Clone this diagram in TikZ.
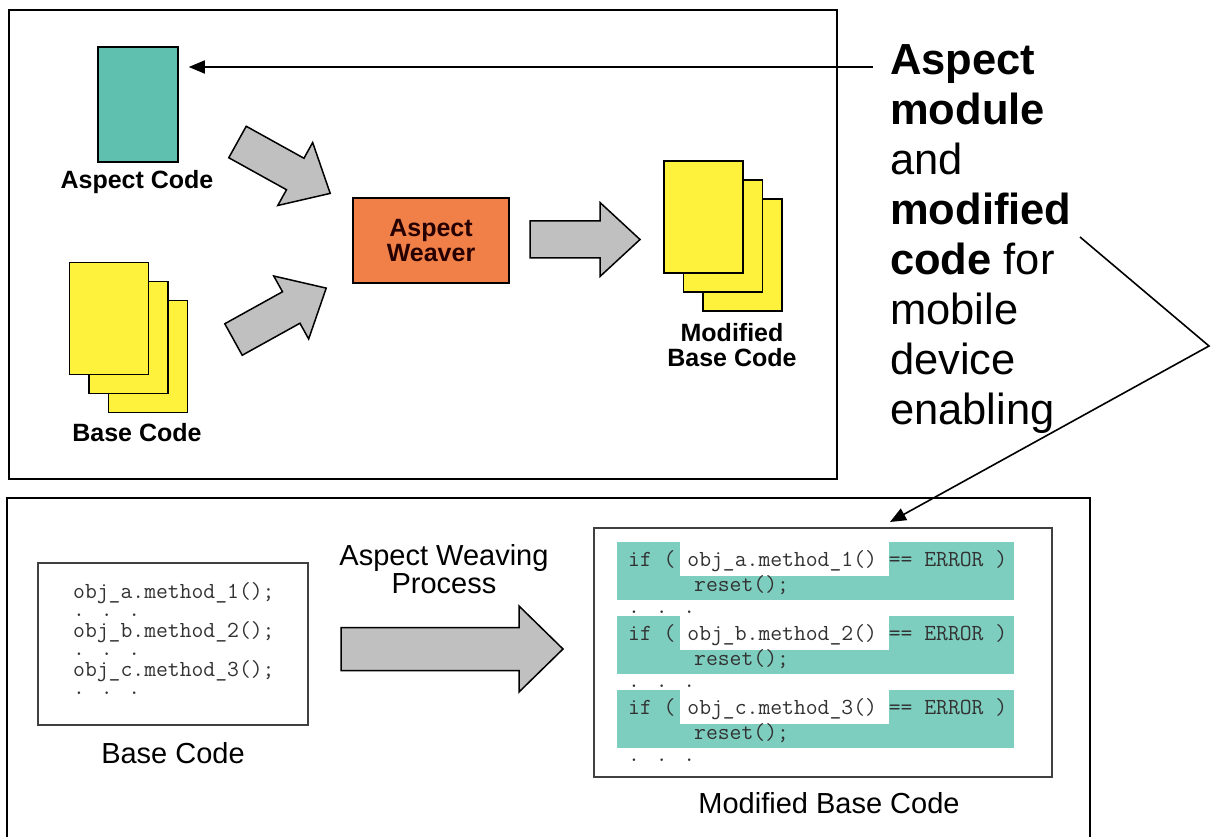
\documentclass[tikz,border=0pt]{standalone}
\usepackage{fontspec}
\setmainfont{Liberation Sans}
\usepackage{tikz}
\usetikzlibrary{arrows.meta}

\definecolor{aspectteal}{RGB}{96,192,176}
\definecolor{bandteal}{RGB}{126,206,192}
\definecolor{pageyellow}{RGB}{255,242,60}
\definecolor{weaverorange}{RGB}{240,128,72}
\definecolor{arrowgray}{RGB}{192,192,192}
\definecolor{codegray}{RGB}{50,50,50}

% block arrow: tail, angle, length, half shaft width, head length
\newcommand{\fatarrow}[5]{%
  \begin{scope}[shift={#1},rotate=#2]
    \filldraw[fill=arrowgray, draw=black, line width=1.5pt, line join=miter]
      (0,-#4) -- (#3-#5,-#4) -- (#3-#5,-2*#4) -- (#3,0) -- (#3-#5,2*#4) -- (#3-#5,#4) -- (0,#4) -- cycle;
  \end{scope}}

\begin{document}
\begin{tikzpicture}[x=1pt, y=-1pt]
    \tikzstyle{panel} = [draw, line width=2.5pt]
    \tikzstyle{page} = [rectangle, draw, line width=1.5pt, fill=pageyellow, inner sep=0pt, minimum width=79pt, minimum height=112pt]
    \tikzstyle{modulebox} = [rectangle, draw, line width=1.5pt, fill=aspectteal, inner sep=0pt, minimum width=80pt, minimum height=115pt]
    \tikzstyle{weaverbox} = [rectangle, draw, line width=1.5pt, fill=weaverorange, inner sep=0pt, minimum width=156pt, minimum height=85pt]
    \tikzstyle{codebox} = [rectangle, draw=black!75, line width=2pt, fill=white, inner sep=0pt]
    \tikzstyle{biglabel} = [font=\fontsize{25}{25}\selectfont\bfseries, align=center, inner sep=0pt]
    \tikzstyle{lowlabel} = [font=\fontsize{29}{28}\selectfont, align=center, inner sep=0pt]
    \tikzstyle{code} = [font=\fontsize{23}{24}\selectfont\ttfamily, text=codegray, inner sep=0pt, anchor=west]
    \tikzstyle{leader} = [line width=1.6pt, -{Triangle[length=16pt, width=13pt]}]

    \useasboundingbox (0,0) rectangle (1211,837);

    % Upper panel
    \draw[panel] (9,10) rectangle (837,479);

    \node[modulebox] (aspect) at (138,104.5) {};
    \node[biglabel] (aspectlbl) at (137,182) {Aspect Code};

    \foreach \k in {2,1,0} {
        \node[page] (base\k) at (109+19.5*\k, 318.5+19*\k) {};
    }
    \node[biglabel] (baselbl) at (137,433) {Base Code};

    \node[weaverbox, biglabel, text=black!85!red] (weaver) at (431,240.5) {Aspect\\Weaver};

    \foreach \k in {2,1,0} {
        \node[page] (mod\k) at (703.5+19.5*\k, 217+19*\k) {};
    }
    \node[biglabel] (modlbl) at (732,345) {Modified\\Base Code};

    \fatarrow{(237.5,142)}{-29}{106}{18}{40}
    \fatarrow{(233.5,339.5)}{29}{106}{18}{40}
    \fatarrow{(530,239.5)}{0}{110}{18.5}{40}

    % Lower panel
    \draw[panel] (7,845) |- (1090,498) -- (1090,845);

    \node[codebox, minimum width=270pt, minimum height=162pt] (basebox) at (173,644) {};
    \foreach \o/\m [count=\j from 0] in {a/1, b/2, c/3} {
        \node[code] (obj\o) at (73,593+39*\j) {obj\_\o.method\_\m();};
        \node[code] (gap\o) at (73,615+39*\j) {. . .};
    }
    \node[lowlabel] (baselow) at (173,753) {Base Code};

    \node[lowlabel] (weaving) at (444,569) {Aspect Weaving\\Process};
    \fatarrow{(341,649)}{0}{222}{21.5}{44}

    \node[codebox, minimum width=458pt, minimum height=249pt] (modbox) at (823,652.5) {};
    \foreach \i/\o/\m in {0/a/1, 1/b/2, 2/c/3} {
        \pgfmathsetmacro\top{542+74*\i}
        \fill[bandteal] (617,\top) rectangle (1014,\top+58);
        \fill[white] (680,\top) rectangle (889,\top+34);
        \node[code] (if\i) at (628,\top+19) {if ( obj\_\o.method\_\m() == ERROR )};
        \node[code] (reset\i) at (694,\top+43) {reset();};
        \node[code] (dots\i) at (628,\top+70) {. . .};
    }
    \node[lowlabel] (modlow) at (829,803) {Modified Base Code};

    % Note and leaders
    \node[anchor=north west, inner sep=0pt, align=left, font=\fontsize{43.5}{50}\selectfont] (note) at (890,44)
        {\textbf{Aspect}\\\textbf{module}\\and\\\textbf{modified}\\\textbf{code} for\\mobile\\device\\enabling};

    \coordinate (lead1) at (873,67);
    \coordinate (tip1) at ([xshift=10pt]aspect.east);
    \draw[leader] (lead1) -- (tip1 |- lead1);

    \coordinate (lead2) at (1080,237);
    \coordinate (bend) at (1209,346);
    \coordinate (tip2) at ([xshift=67pt, yshift=5pt]modbox.north);
    \draw[leader] (lead2) -- (bend) -- (tip2);
\end{tikzpicture}
\end{document}
